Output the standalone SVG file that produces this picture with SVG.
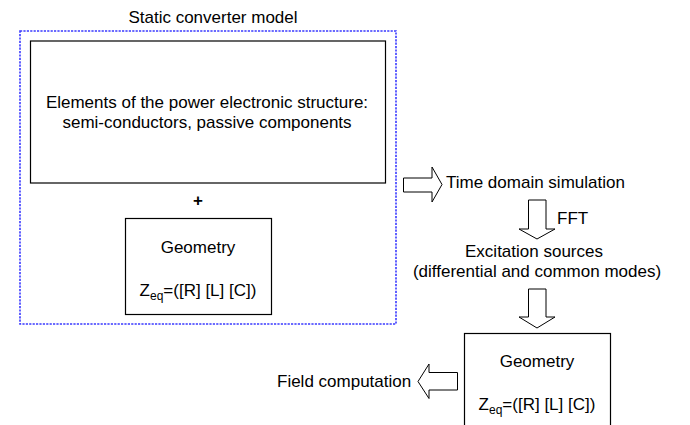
<svg xmlns="http://www.w3.org/2000/svg" width="690" height="425" viewBox="0 0 690 425">
<style>
text{font-family:"Liberation Sans",Arial,sans-serif;font-size:17px;fill:#000}
.mid{text-anchor:middle}
.box{fill:#fff;stroke:#000;stroke-width:1.2}
.arrow{fill:#fff;stroke:#000;stroke-width:1}
.sub{font-size:12px}
</style>
<rect width="690" height="425" fill="#fff"/>
<g id="static-converter-model">
<rect x="20" y="31" width="376" height="293" fill="none" stroke="#3a3aff" stroke-width="1.6" stroke-dasharray="2.2 1.2"/>
<text class="mid" x="213" y="23">Static converter model</text>
</g>
<g id="elements">
<rect class="box" x="30.5" y="41" width="355" height="142"/>
<text class="mid" x="207" y="108">Elements of the power electronic structure:</text>
<text class="mid" x="207" y="128">semi-conductors, passive components</text>
</g>
<g id="plus">
<text class="mid" x="198" y="206" font-weight="bold">+</text>
</g>
<g id="geometry1">
<rect class="box" x="125.5" y="218.5" width="146" height="96"/>
<text class="mid" x="198" y="253">Geometry</text>
<text class="mid" x="198" y="296">Z<tspan class="sub" dy="4">eq</tspan><tspan dy="-4">=([R] [L] [C])</tspan></text>
</g>
<g id="time-domain">
<text x="446" y="188">Time domain simulation</text>
</g>
<g id="excitation">
<text class="mid" x="534" y="257">Excitation sources</text>
<text class="mid" x="537" y="277">(differential and common modes)</text>
</g>
<g id="geometry2">
<rect class="box" x="464.5" y="333.5" width="146" height="100"/>
<text class="mid" x="537" y="367">Geometry</text>
<text class="mid" x="537" y="410">Z<tspan class="sub" dy="4">eq</tspan><tspan dy="-4">=([R] [L] [C])</tspan></text>
</g>
<g id="field">
<text x="277" y="387">Field computation</text>
</g>
<g id="connectors">
<polygon class="arrow" points="403.5,178 432,178 432,167 442,184.5 432,202 432,192 403.5,192"/>
<polygon class="arrow" points="528.5,200 546,200 546,229 555,229 537,239 519,229 528.5,229"/>
<text x="557" y="224">FFT</text>
<polygon class="arrow" points="528.5,289 546,289 546,317 555,317 537,328 519,317 528.5,317"/>
<polygon class="arrow" points="457.5,372.5 429,372.5 429,364 418,381.5 429,398.5 429,390 457.5,390"/>
</g>
</svg>
